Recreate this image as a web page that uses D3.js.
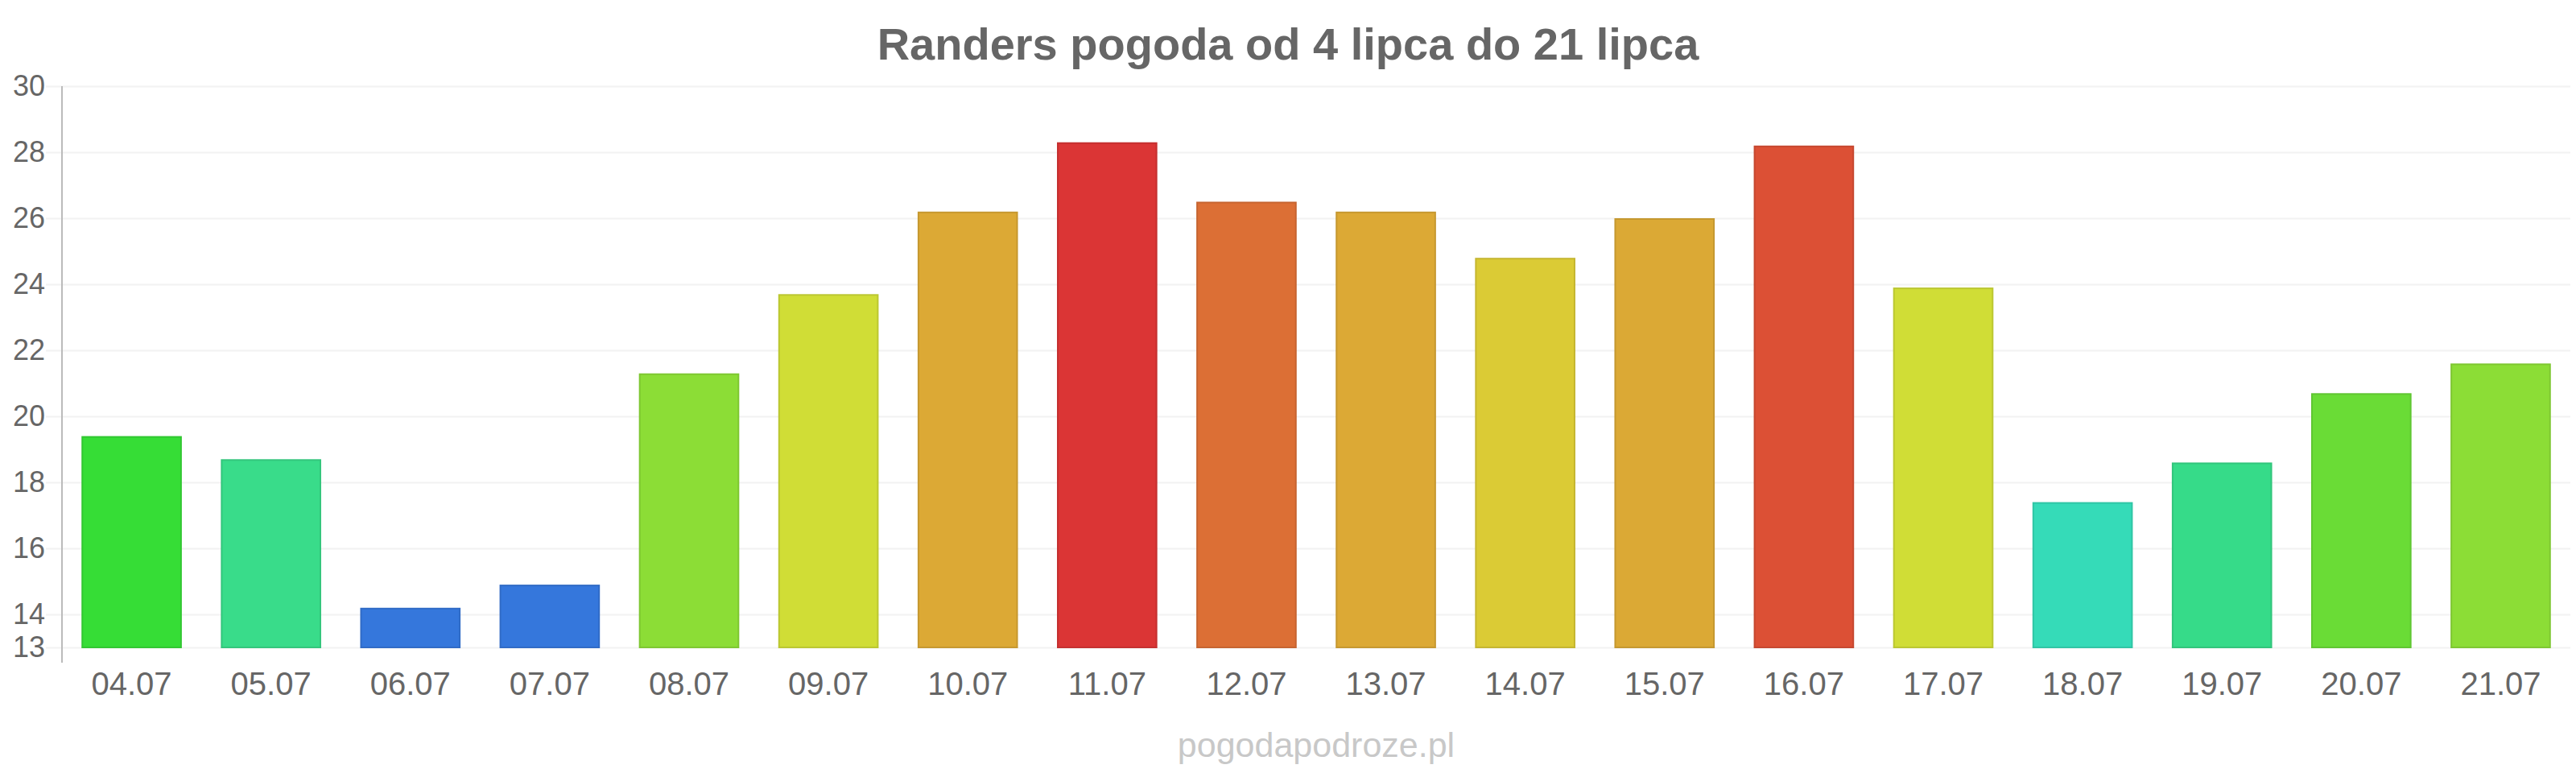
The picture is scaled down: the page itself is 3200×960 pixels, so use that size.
<!DOCTYPE html>
<html>
<head>
<meta charset="utf-8">
<script src="https://cdn.jsdelivr.net/npm/d3@7"></script>
<style>
  body { margin: 0; background: #fff; }
  text { font-family: "Liberation Sans", Arial, sans-serif; fill: #666; }
</style>
</head>
<body>
<script>
// chart data
var days = ["04.07", "05.07", "06.07", "07.07", "08.07", "09.07", "10.07", "11.07", "12.07",
            "13.07", "14.07", "15.07", "16.07", "17.07", "18.07", "19.07", "20.07", "21.07"];
var temps = [19.4, 18.7, 14.2, 14.9, 21.3, 23.7, 26.2, 28.3, 26.5,
             26.2, 24.8, 26.0, 28.2, 23.9, 17.4, 18.6, 20.7, 21.6];
var barColors = ["#36dd36", "#39dc8a", "#3577dc", "#3577dc", "#8cdd36", "#d0dd36", "#dca935", "#db3535", "#dc6f35",
                 "#dca935", "#dbcb35", "#dba935", "#dc5035", "#d0dd36", "#35dbb8", "#36db89", "#6adc36", "#8cdd36"];
var yTicks = [13, 14, 16, 18, 20, 22, 24, 26, 28, 30];
var title = "Randers pogoda od 4 lipca do 21 lipca";
var credit = "pogodapodroze.pl";

// set the dimensions and margins of the graph
var margin = {top: 107, right: 7, bottom: 156, left: 77},
    width = 3200 - margin.left - margin.right,
    height = 960 - margin.top - margin.bottom;

var x = d3.scaleBand()
    .domain(days)
    .range([0, width])
    .paddingInner(0.28)
    .paddingOuter(0.14);

var y = d3.scaleLinear()
    .domain([13, 30])
    .range([height, 0]);

var svg = d3.select("body").append("svg")
    .attr("width", 3200)
    .attr("height", 960);

svg.append("text")
    .attr("x", 1600)
    .attr("y", 74)
    .attr("text-anchor", "middle")
    .style("font-size", "56px")
    .style("font-weight", "bold")
    .text(title);

var g = svg.append("g")
    .attr("transform", "translate(" + margin.left + "," + margin.top + ")");

// y axis with grid lines
var yAxis = g.append("g")
    .call(d3.axisLeft(y).tickValues(yTicks).tickSize(-width).tickPadding(21));
yAxis.select(".domain").remove();
yAxis.selectAll(".tick line")
    .attr("x1", -20)
    .attr("stroke", "#f2f2f2")
    .attr("stroke-width", 2);
yAxis.selectAll(".tick text")
    .style("font-size", "36px")
    .attr("fill", "#666");

// vertical axis line
g.append("line")
    .attr("x1", 0).attr("x2", 0)
    .attr("y1", y(30)).attr("y2", y(13) + 19)
    .attr("stroke", "#bbb")
    .attr("stroke-width", 2);

// bars
g.selectAll(".bar")
    .data(temps)
    .enter().append("rect")
    .attr("class", "bar")
    .attr("x", function(d, i) { return x(days[i]) + 1; })
    .attr("width", x.bandwidth() - 2)
    .attr("y", function(d) { return y(d) + 1; })
    .attr("height", function(d) { return height - y(d) - 1; })
    .attr("fill", function(d, i) { return barColors[i]; })
    .attr("stroke", function(d, i) { return d3.color(barColors[i]).darker(0.3); })
    .attr("stroke-width", 2);

// x axis labels
var xAxis = g.append("g")
    .attr("transform", "translate(0," + height + ")")
    .call(d3.axisBottom(x).tickSize(0).tickPadding(31));
xAxis.select(".domain").remove();
xAxis.selectAll(".tick text")
    .style("font-size", "40px")
    .attr("fill", "#666");

svg.append("text")
    .attr("x", margin.left + width / 2)
    .attr("y", 940)
    .attr("text-anchor", "middle")
    .style("font-size", "43px")
    .style("fill", "#c8c8c8")
    .text(credit);
</script>
</body>
</html>
